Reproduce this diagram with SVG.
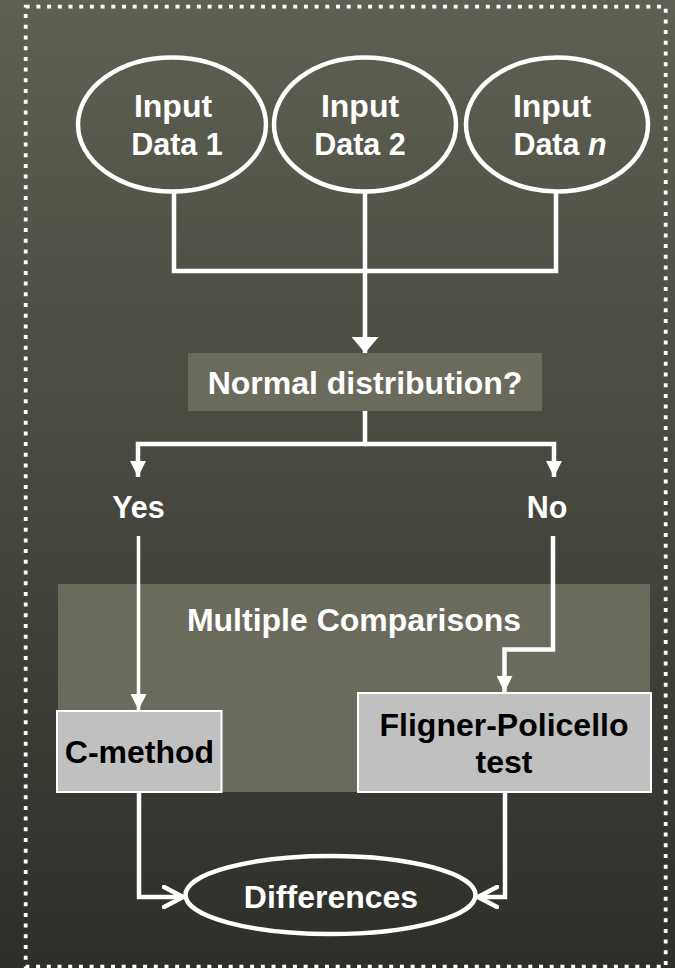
<svg xmlns="http://www.w3.org/2000/svg" width="675" height="968" viewBox="0 0 675 968">
<defs>
<linearGradient id="bg" x1="0" y1="0" x2="0" y2="1">
<stop offset="0" stop-color="#5f6053"/>
<stop offset="1" stop-color="#2e2f29"/>
</linearGradient>
<marker id="tri" viewBox="0 0 10 10" refX="10" refY="5" markerUnits="userSpaceOnUse" markerWidth="16" markerHeight="16" orient="auto">
<path d="M0,0 L10,5 L0,10 Z" fill="#ffffff"/>
</marker>
<marker id="triBig" viewBox="0 0 10 10" refX="10" refY="5" markerUnits="userSpaceOnUse" markerWidth="16" markerHeight="27" orient="auto" preserveAspectRatio="none">
<path d="M0,0 L10,5 L0,10 Z" fill="#ffffff"/>
</marker>
<marker id="open" viewBox="0 0 24 24" refX="21" refY="12" markerUnits="userSpaceOnUse" markerWidth="24" markerHeight="24" orient="auto">
<path d="M2,2 L21,12 L2,22" fill="none" stroke="#ffffff" stroke-width="4.5" stroke-linecap="round" stroke-linejoin="round"/>
</marker>
</defs>
<style>
.t{font-family:"Liberation Sans",Arial,sans-serif;font-weight:bold;font-size:32px;text-anchor:middle;fill:#ffffff}
.s{font-size:30.5px}
.dk{fill:#000000}
.ell{fill:none;stroke:#ffffff;stroke-width:4.5}
.ln{fill:none;stroke:#ffffff;stroke-width:4.5}
.gbox{fill:#c0c0c0;stroke:#ffffff;stroke-width:2}
.pbox{fill:#6a6b5d}
</style>
<rect x="0" y="0" width="675" height="968" fill="url(#bg)"/>
<rect x="25.7" y="6.7" width="640" height="960" fill="none" stroke="#ffffff" stroke-width="3.8" stroke-dasharray="4 6.7"/>

<g id="multiple-comparisons">
<rect class="pbox" x="58" y="584" width="592" height="208"/>
<text class="t" x="354" y="631">Multiple Comparisons</text>
</g>

<g id="connectors">
<path class="ln" d="M174,193 V271 H556 V193"/>
<path class="ln" d="M365,193 V271"/>
<path class="ln" d="M365,271 V353" marker-end="url(#triBig)"/>
<path class="ln" d="M365,411 V444 H138 V477" marker-end="url(#tri)"/>
<path class="ln" d="M365,444 H554 V477" marker-end="url(#tri)"/>
<path fill="none" stroke="#ffffff" stroke-width="3.5" d="M138.5,536 V710" marker-end="url(#tri)"/>
<path class="ln" d="M553,536 V649.5 H504.5 V692" marker-end="url(#tri)"/>
<path class="ln" d="M139,792 V897 H183" marker-end="url(#open)"/>
<path class="ln" d="M505,792 V897 H478" marker-end="url(#open)"/>
</g>

<g id="input1">
<ellipse class="ell" cx="172" cy="124.5" rx="94" ry="67"/>
<text class="t" x="173" y="117">Input</text>
<text class="t s" x="177" y="155">Data 1</text>
</g>
<g id="input2">
<ellipse class="ell" cx="365" cy="124.5" rx="91" ry="67"/>
<text class="t" x="360" y="117">Input</text>
<text class="t s" x="360" y="155">Data 2</text>
</g>
<g id="inputn">
<ellipse class="ell" cx="557" cy="124.5" rx="91" ry="67"/>
<text class="t" x="552" y="117">Input</text>
<text class="t s" x="560" y="155">Data <tspan font-style="italic">n</tspan></text>
</g>

<g id="normal">
<rect class="pbox" x="188" y="353" width="354" height="58"/>
<text class="t" x="365" y="394">Normal distribution?</text>
</g>

<g id="yes"><text class="t s" x="138.5" y="518">Yes</text></g>
<g id="no"><text class="t s" x="547" y="518">No</text></g>

<g id="cmethod">
<rect class="gbox" x="57" y="711" width="164.5" height="81"/>
<text class="t dk" x="139.5" y="763">C-method</text>
</g>

<g id="fligner">
<rect class="gbox" x="358" y="693" width="293" height="99"/>
<text class="t dk" x="504" y="736">Fligner-Policello</text>
<text class="t dk" x="504" y="773">test</text>
</g>

<g id="differences">
<ellipse class="ell" cx="330.5" cy="895" rx="145" ry="39"/>
<text class="t" x="331" y="908">Differences</text>
</g>
</svg>
